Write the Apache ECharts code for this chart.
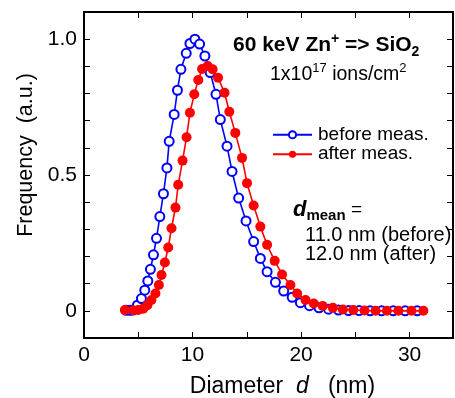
<!DOCTYPE html>
<html><head><meta charset="utf-8">
<script src="https://cdn.jsdelivr.net/npm/echarts@6/dist/echarts.min.js"></script>
<style>html,body{margin:0;padding:0;background:#fff}#c{width:455px;height:398px}</style>
</head><body><div id="c"></div>
<script>
const diameterBefore = [3.88,4.25,4.52,4.92,5.29,5.60,5.88,6.12,6.40,6.68,6.99,7.32,7.64,7.85,8.31,8.61,8.93,9.42,9.76,10.22,10.65,11.14,11.63,12.16,12.56,13.18,13.64,14.25,14.93,15.63,16.25,16.87,17.64,18.40,19.18,19.94,20.78,21.65,22.53,23.45,24.38,25.35,26.36,27.42,28.49,29.59,30.70];
const freqBefore = [0.002,0.002,0.003,0.021,0.045,0.076,0.110,0.153,0.206,0.267,0.347,0.431,0.526,0.624,0.723,0.812,0.889,0.948,0.984,1.000,0.982,0.938,0.877,0.797,0.704,0.606,0.513,0.415,0.331,0.255,0.193,0.144,0.105,0.073,0.050,0.030,0.019,0.011,0.006,0.003,0.001,0.001,0,0,0,0,0];
const diameterAfter = [3.76,4.52,4.99,5.45,5.84,6.21,6.58,6.90,7.14,7.45,7.76,8.06,8.43,8.68,9.08,9.45,9.76,10.16,10.53,10.88,11.40,11.85,12.35,12.95,13.39,13.94,14.56,15.02,15.63,16.25,16.87,17.57,18.25,19.02,19.64,20.41,21.17,22.00,22.93,23.85,24.81,25.85,26.87,27.91,28.97,30.17,31.27];
const freqAfter = [0.003,0.002,0.003,0.008,0.021,0.040,0.064,0.095,0.132,0.178,0.233,0.304,0.380,0.464,0.553,0.639,0.729,0.797,0.850,0.890,0.901,0.889,0.858,0.803,0.733,0.655,0.563,0.470,0.388,0.310,0.243,0.184,0.134,0.095,0.064,0.040,0.027,0.018,0.011,0.005,0.003,0.001,0,0,0,0,0];
const xTickLabels = {0:'0', 10:'10', 20:'20', 30:'30'};
const yTickLabels = {0:'0', 5:'0.5', 10:'1.0'};
const seriesNames = ['before meas.', 'after meas.'];

const FONT = "'Liberation Sans', Arial, Helvetica, sans-serif";
const chart = echarts.init(document.getElementById('c'), null, {renderer: 'canvas'});
const zip = (a, b) => a.map((v, i) => [v, b[i]]);
const axisCommon = {
  axisLine: {show: true, onZero: false, lineStyle: {color: '#000', width: 2}},
  axisTick: {show: true, inside: true, length: 6, lineStyle: {color: '#000', width: 1}},
  splitLine: {show: false}
};
chart.setOption({
  animation: false,
  backgroundColor: '#fff',
  grid: {left: 84, right: 2, top: 12, bottom: 60, containLabel: false, outerBoundsMode: 'none'},
  xAxis: [
    Object.assign({}, axisCommon, {
      type: 'value', position: 'bottom', min: 0, max: 34, interval: 5,
      axisLabel: {show: true, margin: 7, color: '#000', fontSize: 21, fontFamily: FONT,
        formatter: v => { const k = Math.round(v); return Math.abs(v - k) < 1e-6 && xTickLabels[k] !== undefined ? xTickLabels[k] : ''; }},
      name: 'Diameter  {i|d}   (nm)', nameLocation: 'middle', nameGap: 37,
      nameTextStyle: {color: '#000', fontSize: 23, fontFamily: FONT, padding: [0, 0, 0, 28],
        rich: {i: {fontStyle: 'italic', fontSize: 23, fontFamily: FONT, color: '#000'}}}
    }),
    Object.assign({}, axisCommon, {
      type: 'value', position: 'top', min: 0, max: 34, interval: 5, axisLabel: {show: false}
    })
  ],
  yAxis: [
    Object.assign({}, axisCommon, {
      type: 'value', position: 'left', min: -0.1, max: 1.1, interval: 0.1,
      axisLabel: {show: true, margin: 7, color: '#000', fontSize: 21, fontFamily: FONT,
        formatter: v => { const k = Math.round(v * 10); return yTickLabels[k] !== undefined ? yTickLabels[k] : ''; }},
      name: 'Frequency  (a.u.)', nameLocation: 'middle', nameGap: 47,
      nameTextStyle: {color: '#000', fontSize: 21.5, fontFamily: FONT, padding: [0, 0, 0, 40]}
    }),
    Object.assign({}, axisCommon, {
      type: 'value', position: 'right', min: -0.1, max: 1.1, interval: 0.1, axisLabel: {show: false}
    })
  ],
  legend: {
    orient: 'vertical', left: 272, top: 125, padding: 0, itemGap: 0,
    itemWidth: 39, itemHeight: 9,
    data: seriesNames,
    textStyle: {color: '#000', fontSize: 19, fontFamily: FONT, lineHeight: 19.5, padding: [0, 0, 0, 1]}
  },
  series: [
    {name: seriesNames[0], type: 'line', data: zip(diameterBefore, freqBefore),
     symbol: 'emptyCircle', symbolSize: 9, showAllSymbol: true,
     lineStyle: {color: '#0000ff', width: 1.6},
     itemStyle: {color: '#0000ff', borderColor: '#0000ff', borderWidth: 1.8},
     z: 2},
    {name: seriesNames[1], type: 'line', data: zip(diameterAfter, freqAfter),
     symbol: 'circle', symbolSize: 10, showAllSymbol: true,
     lineStyle: {color: '#ff0000', width: 1.6},
     itemStyle: {color: '#ff0000'},
     z: 3}
  ],
  graphic: [
    {type: 'text', left: 233, top: 32, z: 10, style: {
      text: '{b|60 keV Zn}{sup|+}{b| => SiO}{sub|2}',
      rich: {
        b: {fontSize: 21, fontWeight: 'bold', fontFamily: FONT, fill: '#000', lineHeight: 27, verticalAlign: 'middle'},
        sup: {fontSize: 14, fontWeight: 'bold', fontFamily: FONT, fill: '#000', lineHeight: 27, verticalAlign: 'top', padding: [0, 0, 8, 0]},
        sub: {fontSize: 14, fontWeight: 'bold', fontFamily: FONT, fill: '#000', lineHeight: 27, verticalAlign: 'bottom', padding: [6, 0, 0, 0]}
      }}},
    {type: 'text', left: 270, top: 62, z: 10, style: {
      text: '{n|1x10}{sup|17}{n| ions/cm}{sup|2}',
      rich: {
        n: {fontSize: 19.5, fontFamily: FONT, fill: '#000', lineHeight: 26, verticalAlign: 'middle'},
        sup: {fontSize: 13, fontFamily: FONT, fill: '#000', lineHeight: 26, verticalAlign: 'top', padding: [0, 0, 8, 0]}
      }}},
    {type: 'text', left: 293, top: 199, z: 10, style: {
      text: '{d|d}{s|mean}{e| =}',
      rich: {
        d: {fontSize: 22, fontWeight: 'bold', fontStyle: 'italic', fontFamily: FONT, fill: '#000', lineHeight: 26, verticalAlign: 'middle'},
        s: {fontSize: 15, fontWeight: 'bold', fontFamily: FONT, fill: '#000', lineHeight: 26, verticalAlign: 'bottom', padding: [6, 0, 0, 0]},
        e: {fontSize: 19, fontFamily: FONT, fill: '#000', lineHeight: 26, verticalAlign: 'middle'}
      }}},
    {type: 'text', left: 305, top: 225, z: 10, style: {
      text: '11.0 nm (before)\n12.0 nm (after)', fontSize: 20, fontFamily: FONT, fill: '#000', lineHeight: 19}}
  ]
});
</script></body></html>
